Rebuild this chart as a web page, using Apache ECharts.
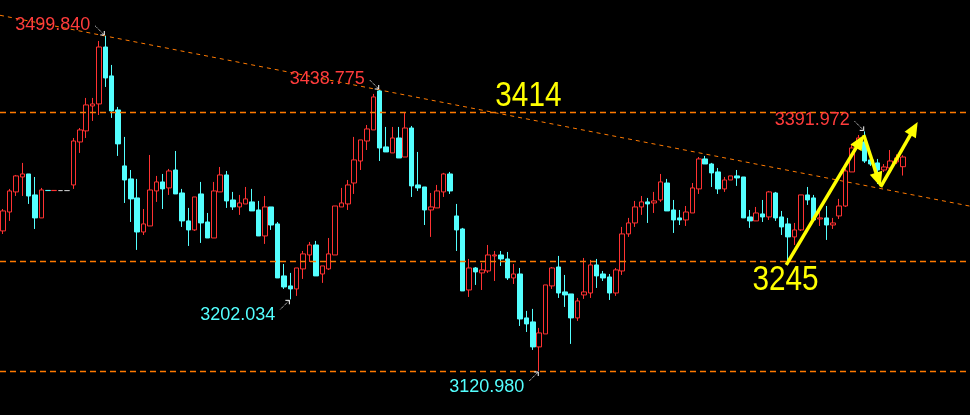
<!DOCTYPE html>
<html><head><meta charset="utf-8">
<script src="https://cdn.jsdelivr.net/npm/echarts@6/dist/echarts.min.js"></script>
<style>html,body{margin:0;padding:0;background:#000;}#c{width:970px;height:415px;}</style>
</head><body><div id="c"></div>
<script>
// candles: [open, close, low, high]
const candles = [
[3279.4,3302.0,3275.9,3304.2],[3300.8,3324.6,3290.7,3326.9],[3323.5,3341.6,3318.9,3342.7],[3340.4,3343.8,3318.9,3356.3],
[3343.8,3318.9,3309.9,3343.8],[3320.1,3294.1,3281.6,3340.4],[3294.1,3325.7,3294.1,3328.0],[3325.2,3325.0,3325.0,3325.2],
[3325.0,3325.2,3325.0,3325.2],[3325.0,3325.0,3325.0,3325.0],[3325.0,3325.0,3325.0,3325.0],[3331.4,3381.1,3326.9,3384.5],
[3380.0,3393.6,3367.6,3395.8],[3392.5,3421.9,3384.5,3429.8],[3420.7,3423.0,3403.8,3429.8],[3423.0,3487.4,3410.5,3494.2],
[3487.4,3452.4,3442.2,3499.84],[3454.7,3415.1,3407.2,3467.1],[3416.2,3377.8,3364.2,3419.6],[3352.9,3337.0,3311.0,3385.7],
[3338.2,3315.6,3289.5,3348.3],[3316.7,3278.2,3257.9,3338.2],[3278.2,3287.3,3274.8,3304.2],[3285.0,3325.7,3285.0,3365.3],
[3324.6,3334.8,3312.2,3341.6],[3334.8,3326.9,3304.2,3343.8],[3328.0,3347.2,3320.1,3349.5],[3348.3,3321.2,3321.2,3369.8],
[3322.3,3290.7,3283.9,3326.9],[3290.7,3280.5,3262.4,3305.4],[3280.5,3317.8,3279.4,3317.8],[3321.2,3288.4,3265.8,3334.8],
[3289.5,3271.4,3271.4,3299.7],[3271.4,3324.6,3271.4,3334.8],[3323.5,3342.7,3323.5,3351.7],[3342.7,3313.3,3305.4,3347.2],
[3314.4,3306.5,3303.1,3323.5],[3306.5,3311.0,3297.5,3320.1],[3309.9,3315.6,3309.9,3329.1],[3312.2,3302.0,3302.0,3326.9],
[3303.1,3273.7,3273.7,3313.3],[3273.7,3306.5,3264.7,3318.9],[3306.5,3286.1,3280.5,3306.5],[3287.3,3226.2,3226.2,3289.5],
[3228.5,3216.0,3213.8,3242.0],[3217.2,3213.8,3202.034,3231.9],[3213.8,3237.5,3205.9,3237.5],[3236.4,3253.4,3225.1,3256.7],
[3252.2,3263.5,3244.3,3266.9],[3263.5,3228.5,3228.5,3268.1],[3230.7,3239.8,3220.6,3239.8],[3236.4,3253.4,3235.3,3271.4],
[3252.2,3307.6,3252.2,3307.6],[3306.5,3311.0,3306.5,3328.0],[3309.9,3331.4,3303.1,3337.0],[3333.6,3359.7,3321.2,3385.7],
[3358.5,3382.3,3348.3,3382.3],[3381.1,3394.7,3370.9,3399.2],[3393.6,3430.9,3393.6,3434.3],[3437.7,3373.2,3358.5,3438.775],
[3374.4,3368.7,3368.7,3397.0],[3367.6,3384.5,3367.6,3397.0],[3384.5,3361.9,3361.9,3397.0],[3363.0,3395.8,3363.0,3413.9],
[3395.8,3330.3,3317.8,3398.1],[3331.4,3328.0,3324.6,3368.7],[3329.1,3303.1,3286.1,3329.1],[3303.1,3306.5,3272.6,3322.3],
[3305.4,3324.6,3305.4,3331.4],[3323.5,3343.8,3317.8,3345.0],[3343.8,3324.6,3321.2,3346.1],[3296.3,3280.5,3256.7,3309.9],
[3281.6,3211.5,3211.5,3282.8],[3212.6,3237.5,3204.7,3247.7],[3237.5,3233.0,3218.3,3238.6],[3231.9,3235.3,3212.6,3243.2],
[3234.1,3252.2,3231.9,3263.5],[3251.1,3252.2,3222.8,3256.7],[3252.2,3247.7,3239.8,3256.7],[3247.7,3226.2,3223.9,3255.6],
[3226.2,3230.7,3219.4,3242.0],[3230.7,3179.8,3171.9,3237.5],[3181.0,3174.2,3165.1,3188.9],[3176.5,3148.2,3144.8,3191.2],
[3148.2,3164.0,3120.98,3169.7],[3162.9,3218.3,3162.9,3218.3],[3217.2,3237.5,3213.8,3238.6],[3238.6,3209.2,3203.6,3251.1],
[3210.4,3207.0,3193.4,3229.6],[3208.1,3181.0,3151.6,3208.1],[3181.0,3200.2,3177.6,3203.6],[3207.0,3210.4,3202.5,3248.8],
[3209.2,3240.9,3203.6,3246.6],[3240.9,3228.5,3214.9,3247.7],[3230.7,3226.2,3222.8,3234.1],[3227.3,3209.2,3201.3,3230.7],
[3209.2,3235.3,3205.9,3237.5],[3234.1,3276.0,3229.6,3283.9],[3276.0,3288.4,3272.6,3294.1],[3288.4,3306.5,3283.9,3313.3],
[3306.5,3312.2,3297.5,3318.9],[3312.2,3309.9,3288.4,3316.7],[3311.0,3313.3,3299.7,3323.5],[3314.4,3334.8,3312.2,3343.8],
[3333.6,3302.0,3302.0,3338.2],[3303.1,3291.8,3277.1,3314.4],[3294.1,3291.8,3286.1,3303.1],[3291.8,3300.8,3285.0,3307.6],
[3299.7,3328.0,3299.7,3333.6],[3326.9,3360.8,3321.2,3363.0],[3360.8,3355.1,3355.1,3364.2],[3355.1,3345.0,3329.1,3356.3],
[3346.1,3326.9,3321.2,3350.6],[3326.9,3337.0,3323.5,3340.4],[3337.0,3341.6,3337.0,3341.6],[3341.6,3339.3,3330.3,3348.3],
[3340.4,3294.1,3294.1,3340.4],[3295.2,3290.7,3282.8,3303.1],[3290.7,3299.7,3290.7,3306.5],[3298.6,3295.2,3289.5,3314.4],
[3295.2,3323.5,3291.8,3324.6],[3322.3,3294.1,3290.7,3323.5],[3295.2,3283.9,3274.8,3302.0],[3287.3,3272.6,3240.9,3294.1],
[3272.6,3280.5,3263.5,3288.4],[3280.5,3320.1,3279.4,3320.1],[3320.1,3314.4,3308.8,3329.1],[3316.7,3291.8,3289.5,3320.1],
[3292.9,3294.1,3285.0,3303.1],[3294.1,3286.1,3269.2,3307.6],[3286.1,3288.4,3281.6,3294.1],[3296.3,3307.6,3292.9,3315.6],
[3307.6,3347.2,3306.5,3349.5],[3346.1,3373.2,3346.1,3377.8],[3373.2,3384.5,3372.0,3387.9],[3380.0,3358.5,3356.3,3391.972],
[3359.7,3355.1,3352.9,3367.6],[3356.3,3348.3,3332.5,3360.8],[3348.3,3351.7,3346.0,3355.0],[3350.6,3358.5,3343.8,3370.9],
[3357.4,3361.9,3355.0,3366.0],[3352.0,3363.0,3342.0,3365.0]
];
const totalSlots = 152;                       // categories shown (rest empty on the right)
const categories = Array.from({length: totalSlots}, (_, i) => String(i + 1));
const levels = [3414, 3245, 3120.98];         // horizontal support / resistance levels
const levelTexts = [['3414', 82.3, 3414, 1], ['3245', 122.6, 3245, -1]];
const calloutHighs = [16, 59, 135];           // candle indices whose high is annotated
const calloutLows = [45, 84];                 // candle indices whose low is annotated
const trendAnchors = [16, 59];                // highs defining the falling trend line
const arrowPath = [[122.7, 3241.0], [134.85, 3387.9], [137.5, 3329.1], [143.3, 3402.6]];

const RED = '#ff3232', CYAN = '#54ffff', ORANGE = '#ff7a00', YELLOW = '#ffff00';
const GRAY = '#c0c0c0';

const candleData = candles.map(c => {
  const flat = c[0] === c[1] && c[2] === c[3];
  return flat ? {value: c, itemStyle: {color: GRAY, color0: GRAY, borderColor: GRAY, borderColor0: GRAY}} : c;
});

const [ia, ib] = trendAnchors;
const pa = candles[ia][3], pb = candles[ib][3];
const slope = (pb - pa) / (ib - ia);
const trendData = [[-0.5, pa + slope * (-0.5 - ia)], [totalSlots - 0.5, pa + slope * (totalSlots - 0.5 - ia)]];

const callouts = calloutHighs.map(i => [i, candles[i][3], 1]).concat(calloutLows.map(i => [i, candles[i][2], -1]));

const arrowSegs = [];
for (let k = 0; k < arrowPath.length - 1; k++) arrowSegs.push([arrowPath[k][0], arrowPath[k][1], arrowPath[k+1][0], arrowPath[k+1][1]]);

const chart = echarts.init(document.getElementById('c'), null, {renderer: 'canvas'});
chart.setOption({
  backgroundColor: '#000',
  animation: false,
  grid: {left: -4, right: -3, top: 0, bottom: 0},
  xAxis: [
    {type: 'category', data: categories, show: false, boundaryGap: true},
    {type: 'value', min: -0.5, max: totalSlots - 0.5, show: false}
  ],
  yAxis: [{type: 'value', min: 3071.2, max: 3540.55, show: false, splitLine: {show: false}}],
  series: [
    {
      type: 'line', xAxisIndex: 1, data: trendData, symbol: 'none', silent: true,
      lineStyle: {color: ORANGE, width: 1, type: [4, 4]}, z: 1
    },
    {
      type: 'candlestick', xAxisIndex: 0, data: candleData, barWidth: 5, z: 2,
      itemStyle: {color: '#000', color0: CYAN, borderColor: RED, borderColor0: CYAN, borderColorDoji: GRAY, borderWidth: 1},
      markLine: {
        silent: true, symbol: ['none', 'none'], label: {show: false},
        lineStyle: {color: ORANGE, width: 1.3, type: [6, 4]},
        data: levels.map(v => ({yAxis: v}))
      }
    },
    {
      type: 'custom', xAxisIndex: 0, data: callouts, z: 5, silent: true,
      renderItem: (params, api) => {
        const dir = api.value(2), price = api.value(1);
        const p = api.coord([api.value(0), price]);
        const tip = [p[0] - 1, p[1] - dir * 1];
        const st = [p[0] - 10, p[1] - dir * 10];
        return {type: 'group', children: [
          {type: 'line', shape: {x1: st[0], y1: st[1], x2: tip[0], y2: tip[1]}, style: {stroke: '#fff', lineWidth: 1, lineDash: [1, 1]}},
          {type: 'polyline', shape: {points: [[tip[0] - 4, tip[1]], tip, [tip[0], tip[1] - dir * 4]]}, style: {stroke: '#fff', lineWidth: 1, fill: null}},
          {type: 'text', style: {text: price.toFixed(3), x: p[0] - 15, y: p[1] + (dir > 0 ? -11 : 16),
            align: 'right', verticalAlign: 'middle', fill: dir > 0 ? '#ff3c3c' : CYAN,
            fontSize: 18, fontFamily: '"Liberation Sans", Arial, sans-serif'}}
        ]};
      }
    },
    {
      type: 'custom', xAxisIndex: 1, data: levelTexts.map(t => [t[1], t[2], t[3]]), z: 5, silent: true,
      renderItem: (params, api) => {
        const p = api.coord([api.value(0), api.value(1)]);
        const dir = api.value(2);
        return {type: 'text', x: p[0], y: p[1] + (dir > 0 ? -16 : 19), scaleX: 0.85,
          style: {text: levelTexts[params.dataIndex][0], x: 0, y: 0,
          align: 'center', verticalAlign: 'middle', fill: YELLOW, fontSize: 35,
          fontFamily: '"Liberation Sans", Arial, sans-serif'}};
      }
    },
    {
      type: 'custom', xAxisIndex: 1, data: arrowSegs, z: 6, silent: true,
      renderItem: (params, api) => {
        const a = api.coord([api.value(0), api.value(1)]);
        const b = api.coord([api.value(2), api.value(3)]);
        const dx = b[0] - a[0], dy = b[1] - a[1], len = Math.hypot(dx, dy);
        const ux = dx / len, uy = dy / len, nx = -uy, ny = ux;
        const hl = 15, hw = 6.5;
        const base = [b[0] - ux * hl, b[1] - uy * hl];
        return {type: 'group', children: [
          {type: 'line', shape: {x1: a[0], y1: a[1], x2: base[0] + ux * 2, y2: base[1] + uy * 2}, style: {stroke: YELLOW, lineWidth: 3.5}},
          {type: 'polygon', shape: {points: [b, [base[0] + nx * hw, base[1] + ny * hw], [base[0] - nx * hw, base[1] - ny * hw]]}, style: {fill: YELLOW}}
        ]};
      }
    }
  ]
});
</script>
</body></html>
